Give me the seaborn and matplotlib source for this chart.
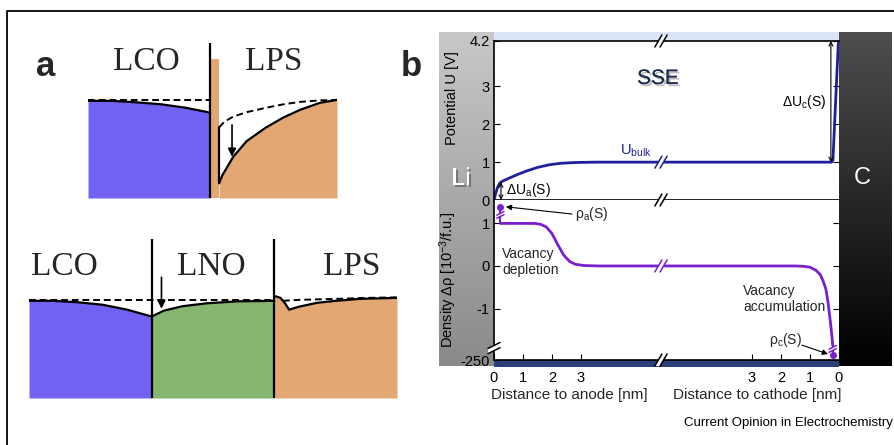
import numpy as np
import matplotlib.pyplot as plt
import matplotlib.patheffects as pe
import matplotlib.transforms as mtrans
from matplotlib.colors import LinearSegmentedColormap
import seaborn as sns

sns.set_theme(style="white")
plt.rcParams["font.family"] = ["Liberation Sans", "DejaVu Sans"]
plt.rcParams["mathtext.fontset"] = "custom"
plt.rcParams["mathtext.rm"] = "Liberation Sans"
plt.rcParams["mathtext.it"] = "Liberation Sans"
plt.rcParams["mathtext.default"] = "regular"

# %% data -------------------------------------------------------------
# panel a, top sketch: LCO | LPS  (position, level; interface at 0)
lco1_x = [-1.0, -0.8, -0.6, -0.4, -0.2, 0.0]
lco1_lvl = [0.99, 0.99, 0.975, 0.955, 0.92, 0.87]
lps1_x = [0.074, 0.1, 0.19, 0.3, 0.46, 0.6, 0.74, 0.9, 1.04]
lps1_lvl = [0.15, 0.23, 0.42, 0.58, 0.72, 0.82, 0.90, 0.97, 1.0]
lps1_dash_x = [0.074, 0.12, 0.19, 0.3, 0.46, 0.6, 0.74, 0.9, 1.04]
lps1_dash_lvl = [0.72, 0.78, 0.83, 0.875, 0.92, 0.955, 0.98, 0.995, 1.0]
spike_x = [0.008, 0.074]
spike_top = 1.42

# panel a, bottom sketch: LCO | LNO | LPS
lco2_x = [0.0, 0.2, 0.4, 0.6, 0.8, 1.0]
lco2_lvl = [0.99, 0.99, 0.975, 0.95, 0.90, 0.83]
lno2_x = [1.0, 1.1, 1.25, 1.45, 1.7, 2.0]
lno2_lvl = [0.83, 0.89, 0.935, 0.965, 0.985, 0.99]
lps2_x = [2.0, 2.05, 2.09, 2.12, 2.2, 2.35, 2.5, 2.7, 3.0]
lps2_lvl = [1.04, 1.02, 0.96, 0.90, 0.93, 0.97, 0.99, 1.01, 1.02]
lps2_dash_x = [2.07, 2.2, 2.5, 2.75, 3.0]
lps2_dash_lvl = [0.99, 1.0, 1.01, 1.02, 1.025]

# panel b: potential U [V] vs distance [nm]
u_anode_d = [0.0, 0.05, 0.12, 0.2, 0.3, 0.5, 0.8, 1.1, 1.5, 1.9, 2.3, 2.8, 3.5, 5.76]
u_anode = [0.0, 0.15, 0.33, 0.45, 0.5, 0.57, 0.67, 0.76, 0.86, 0.93, 0.97, 0.99, 1.0, 1.0]
u_cath_d = [6.14, 3.0, 1.0, 0.26, 0.21, 0.02]
u_cath = [1.0, 1.0, 1.0, 1.0, 1.05, 4.2]

# panel b: vacancy density [1e-3 / f.u.] vs distance [nm]
rho_anode_d = [0.22, 0.8, 1.4, 1.6, 1.8, 2.0, 2.2, 2.4, 2.6, 2.8, 3.1, 3.6, 5.76]
rho_anode = [1.0, 1.0, 1.0, 0.98, 0.92, 0.76, 0.5, 0.26, 0.11, 0.04, 0.01, 0.0, 0.0]
rho_cath_d = [6.14, 2.5, 1.5, 1.2, 1.0, 0.8, 0.65, 0.55, 0.45, 0.38, 0.3, 0.24, 0.22]
rho_cath = [0.0, 0.0, 0.0, -0.01, -0.03, -0.1, -0.2, -0.35, -0.55, -0.85, -1.3, -1.67, -1.86]
rho_a_surf = 1.39   # rho_a(S), off-scale
rho_c_surf = -2.09  # rho_c(S), off-scale (-250)
surf_d = 0.22

u_ticks = [0, 1, 2, 3, 4.2]
rho_ticks = [-1, 0, 1]
dist_ticks = [0, 1, 2, 3]

# %% layout -----------------------------------------------------------
W, H = 895, 445
L = 11.9      # axis span in nm (anode 0 .. cathode 0)
XB = 5.76     # position of the axis break
RHO_MIN, RHO_MAX = -2.21, 1.55

BLUE_LCO, GREEN_LNO, ORANGE_LPS = "#7262f4", "#84b571", "#e2a773"
U_COL, RHO_COL = "#1f1f9e", "#7a1fd0"

fig = plt.figure(figsize=(W / 100, H / 100), dpi=100)


def rect(x0, y0, x1, y1):
    return [x0 / W, 1 - y1 / H, (x1 - x0) / W, (y1 - y0) / H]


bg = fig.add_axes([0, 0, 1, 1], zorder=0)
bg.patch.set_visible(False)
bg.axis("off")

grad = np.linspace(0, 1, 256)[:, None]
grey = LinearSegmentedColormap.from_list("g", ["#c8c8c8", "#8a8a8a"])
dark = LinearSegmentedColormap.from_list("d", ["#4e4e4e", "#000000"])
bg.imshow(grad, cmap=grey, extent=[439, 494, 366, 32], aspect="auto")
bg.imshow(grad, cmap=dark, extent=[839, 892, 366, 32], aspect="auto")
bg.fill_between([494, 839], 32, 41, color="#dbe5f7", lw=0)
bg.fill_between([494, 839], 360, 367, color="#2c3e78", lw=0)
bg.plot([7, 7, W], [H, 11, 11], color="black", lw=1.3)
bg.text(46, 67, "a", fontsize=25, fontweight="bold", ha="center", va="center")
bg.text(411, 67, "b", fontsize=25, fontweight="bold", ha="center", va="center")
shadow = [pe.withSimplePatchShadow(offset=(1.5, -1.5), shadow_rgbFace="#555555", alpha=0.6), pe.Normal()]
bg.text(461, 178, "Li", fontsize=18, color="white", ha="center", va="center", path_effects=shadow)
bg.text(862, 178, "C", fontsize=17, color="white", ha="center", va="center")
bg.text(893, 423, "Current Opinion in Electrochemistry", fontsize=9.5, ha="right", va="center", color="black")
bg.set_xlim(0, W)
bg.set_ylim(H, 0)

# %% panel a -----------------------------------------------------------
serif = ["Liberation Serif", "DejaVu Serif"]
kw_solid = dict(color="black", lw=1.6)
kw_dash = dict(color="black", lw=1.4, ls=(0, (3.5, 2)))

a1 = fig.add_axes(rect(88, 43, 337, 198))
a1.axis("off")
a1.set_xlim(-1, 1.04)
a1.set_ylim(0, 1.58)
a1.fill_between(lco1_x, 0, lco1_lvl, color=BLUE_LCO, lw=0)
a1.fill_between(spike_x, 0, spike_top, color=ORANGE_LPS, lw=0)
a1.fill_between(lps1_x, 0, lps1_lvl, color=ORANGE_LPS, lw=0)
a1.plot([lco1_x[0], 0], [1.0, 1.0], **kw_dash)
a1.plot(lps1_dash_x, lps1_dash_lvl, **kw_dash)
sns.lineplot(x=lco1_x, y=lco1_lvl, ax=a1, sort=False, estimator=None, **kw_solid)
sns.lineplot(x=lps1_x, y=lps1_lvl, ax=a1, sort=False, estimator=None, **kw_solid)
a1.plot([0, 0], [0, 1.58], **kw_solid)
a1.plot([spike_x[1]] * 2, [lps1_lvl[0], lps1_dash_lvl[0]], **kw_solid)
a1.annotate("", xy=(0.18, 0.42), xytext=(0.18, 0.745),
            arrowprops=dict(arrowstyle="-|>", color="black", lw=1.2, mutation_scale=12, shrinkA=0, shrinkB=0))
for x, s in [(-0.52, "LCO"), (0.52, "LPS")]:
    a1.text(x, 1.39, s, family=serif, fontsize=24, ha="center", va="center")

a2 = fig.add_axes(rect(29, 239, 397, 398))
a2.axis("off")
a2.set_xlim(0, 3)
a2.set_ylim(0, 1.62)
a2.fill_between(lco2_x, 0, lco2_lvl, color=BLUE_LCO, lw=0)
a2.fill_between(lno2_x, 0, lno2_lvl, color=GREEN_LNO, lw=0)
a2.fill_between(lps2_x, 0, lps2_lvl, color=ORANGE_LPS, lw=0)
a2.plot([0, 2], [1.0, 1.0], **kw_dash)
a2.plot(lps2_dash_x, lps2_dash_lvl, **kw_dash)
for xs, ys in [(lco2_x, lco2_lvl), (lno2_x, lno2_lvl), (lps2_x, lps2_lvl)]:
    sns.lineplot(x=xs, y=ys, ax=a2, sort=False, estimator=None, **kw_solid)
a2.plot([1, 1], [0, 1.62], **kw_solid)
a2.plot([2, 2], [0, 1.62], **kw_solid)
a2.annotate("", xy=(1.08, 0.91), xytext=(1.08, 1.23),
            arrowprops=dict(arrowstyle="-|>", color="black", lw=1.2, mutation_scale=12, shrinkA=0, shrinkB=0))
for x, s in [(0.29, "LCO"), (1.49, "LNO"), (2.63, "LPS")]:
    a2.text(x, 1.34, s, family=serif, fontsize=24, ha="center", va="center")

# %% panel b -----------------------------------------------------------
axU = fig.add_axes(rect(494, 41, 839, 200), zorder=1)
axR = fig.add_axes(rect(494, 200, 839, 360), zorder=1)

for ax in (axU, axR):
    ax.set_facecolor("white")
    ax.set_xlim(0, L)
    for side in ("left", "top", "bottom"):
        ax.spines[side].set_color("black")
        ax.spines[side].set_linewidth(1.2)
    ax.spines["right"].set_visible(False)
    ax.tick_params(axis="y", direction="in", length=4, width=0.8, left=True, right=True,
                   labelsize=10.5, pad=3, color="black", labelcolor="black")
axR.spines["top"].set_visible(False)

# potential
sns.lineplot(x=u_anode_d, y=u_anode, ax=axU, color=U_COL, lw=2, sort=False, estimator=None)
sns.lineplot(x=L - np.array(u_cath_d), y=u_cath, ax=axU, color=U_COL, lw=2, sort=False, estimator=None)
axU.set_ylim(0, 4.2)
axU.set_yticks(u_ticks, [f"{t:g}" for t in u_ticks])
axU.set_xticks([])
axU.set_ylabel("Potential U [V]", fontsize=10.5, color="black")
axU.yaxis.set_label_coords(-0.101, 0.64)

arrow2 = dict(arrowstyle="<->", color="black", lw=0.8, mutation_scale=7, shrinkA=0, shrinkB=0)
axU.annotate("", xy=(L - 0.28, 4.2), xytext=(L - 0.28, 1.0), arrowprops=arrow2)
axU.annotate("", xy=(0.24, u_anode[4] - 0.03), xytext=(0.24, 0), arrowprops=arrow2)
axU.text(L - 0.45, 2.58, r"ΔU$_c$(S)", fontsize=10, ha="right", va="center", color="black")
axU.text(0.41, 0.26, r"ΔU$_a$(S)", fontsize=10, ha="left", va="center", color="black")
axU.text(4.34, 1.08, r"U$_{bulk}$", fontsize=10.5, ha="left", va="bottom", color=U_COL)
axU.text(5.66, 3.21, "SSE", fontsize=15, ha="center", va="center", color="#1c2d4f",
         path_effects=[pe.withSimplePatchShadow(offset=(1.5, -1.5), shadow_rgbFace="#777777", alpha=0.5), pe.Normal()])

# density
sns.lineplot(x=rho_anode_d, y=rho_anode, ax=axR, color=RHO_COL, lw=2, sort=False, estimator=None)
sns.lineplot(x=L - np.array(rho_cath_d), y=rho_cath, ax=axR, color=RHO_COL, lw=2, sort=False, estimator=None)
axR.plot([surf_d, surf_d], [rho_anode[0], rho_a_surf], color=RHO_COL, lw=1.5)
axR.plot([L - surf_d] * 2, [rho_cath[-1], rho_c_surf], color=RHO_COL, lw=1.5)
axR.plot([surf_d, L - surf_d], [rho_a_surf, rho_c_surf], "o", ms=4, color=RHO_COL)
axR.set_ylim(RHO_MIN, RHO_MAX)
axR.set_yticks([RHO_MIN] + rho_ticks, ["-250"] + [f"{t:g}" for t in rho_ticks])
axR.set_ylabel(r"Density Δρ [10$^{-3}$/f.u.]", fontsize=10.5, color="black")
axR.yaxis.set_label_coords(-0.101, 0.5)

xt = dist_ticks + [L - d for d in dist_ticks[::-1]]
axR.set_xticks(xt, [str(d) for d in dist_ticks] + [str(d) for d in dist_ticks[::-1]])
axR.tick_params(axis="x", direction="in", length=4, width=0.8, bottom=True,
                labelsize=10.5, pad=8, color="black", labelcolor="black")
blend = mtrans.blended_transform_factory(axR.transData, axR.transAxes)
axR.text(2.59, -0.22, "Distance to anode [nm]", transform=blend, fontsize=11, ha="center", va="center")
axR.text(9.07, -0.22, "Distance to cathode [nm]", transform=blend, fontsize=11, ha="center", va="center")

axR.text(0.28, 0.1, "Vacancy\ndepletion", fontsize=10, ha="left", va="center", linespacing=1.15)
axR.text(8.59, -0.78, "Vacancy\naccumulation", fontsize=10, ha="left", va="center", linespacing=1.15)
axR.text(2.79, 1.22, r"ρ$_a$(S)", fontsize=10, ha="left", va="center")
axR.text(10.04, -1.74, r"ρ$_c$(S)", fontsize=10, ha="center", va="center")
arrow1 = dict(arrowstyle="-|>", color="black", lw=0.8, mutation_scale=8, shrinkA=0, shrinkB=0)
axR.annotate("", xy=(0.41, rho_a_surf), xytext=(2.69, 1.22), arrowprops=arrow1)
axR.annotate("", xy=(L - 0.38, rho_c_surf + 0.02), xytext=(10.62, -1.86), arrowprops=arrow1)

# %% axis-break marks (overlay in pixel space) ---------------------------
ov = fig.add_axes([0, 0, 1, 1], zorder=5)
ov.patch.set_visible(False)
ov.axis("off")


def brk(ax, x, y, color="black", kind="h", s=1.0):
    X, Y = ax.transData.transform((x, y))
    Y = H - Y
    if kind == "h":
        dx, dy, ox, oy = 3.5 * s, 6 * s, 2.6 * s, 0
    else:
        dx, dy, ox, oy = 6 * s, 3 * s, 0, 2.6 * s
    a = [(X - ox - dx, Y - oy + dy), (X - ox + dx, Y - oy - dy)]
    b = [(X + ox - dx, Y + oy + dy), (X + ox + dx, Y + oy - dy)]
    ov.fill([a[0][0], a[1][0], b[1][0], b[0][0]], [a[0][1], a[1][1], b[1][1], b[0][1]],
            color="white", lw=0, zorder=1)
    for p in (a, b):
        ov.plot([p[0][0], p[1][0]], [p[0][1], p[1][1]], color=color, lw=1.1, zorder=2)


brk(axU, XB, 4.2)
brk(axU, XB, 0)
brk(axR, XB, RHO_MIN)
brk(axU, XB, 1.0, U_COL)
brk(axR, XB, 0, RHO_COL)
brk(axR, 0, -1.93, kind="v")
brk(axR, surf_d, 1.2, RHO_COL, kind="v", s=0.6)
brk(axR, L - surf_d, -1.95, RHO_COL, kind="v", s=0.6)
ov.set_xlim(0, W)
ov.set_ylim(H, 0)

fig.savefig("out.png", dpi=100)
